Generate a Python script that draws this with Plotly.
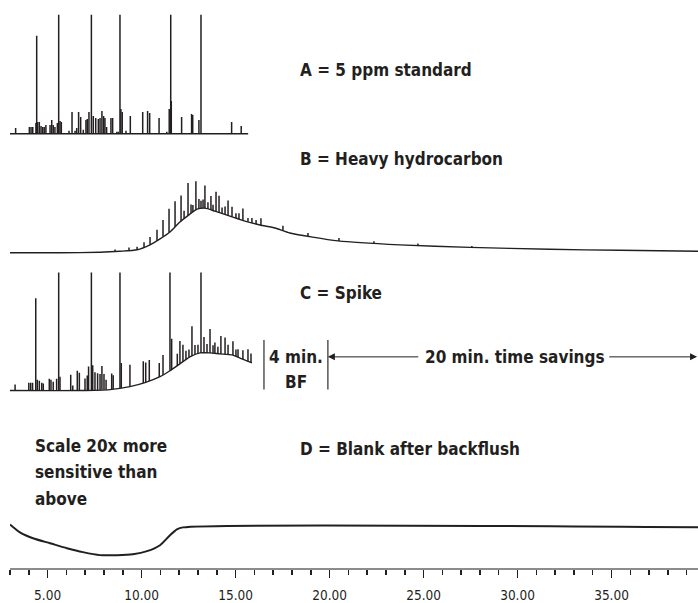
import numpy as np
import plotly.graph_objects as go

# ---------------- data ----------------
# Panel A: 5 ppm standard (flat baseline, peaks: retention time [min], height)
A_base_t = [3.0, 15.67]
A_base_y = [0, 0]
A_peak_t = [3.30, 4.03, 4.12, 4.21, 4.38, 4.42, 4.47, 4.56, 4.65, 4.74, 4.82, 4.91,
            5.13, 5.22, 5.30, 5.39, 5.52, 5.59, 5.66, 5.73, 6.14, 6.30, 6.46, 6.55,
            6.65, 6.76, 6.90, 7.04, 7.11, 7.20, 7.33, 7.43, 7.56, 7.70, 7.79, 7.89,
            7.98, 8.05, 8.14, 8.37, 8.46, 8.68, 8.76, 8.85, 8.90, 8.97, 9.17, 9.40,
            10.06, 10.32, 10.43, 10.93, 11.34, 11.47, 11.55, 11.58, 12.13, 12.66,
            12.72, 13.05, 13.16, 14.79, 15.30]
A_peak_h = [6, 7, 7, 7, 11, 99, 12, 12, 8, 7, 7, 9,
            9, 14, 9, 7, 11, 140, 13, 12, 3, 22, 3, 6,
            22, 17, 4, 14, 15, 22, 140, 18, 16, 15, 16, 23,
            18, 16, 7, 16, 16, 2, 2, 140, 25, 22, 3, 18,
            22, 23, 21, 16, 2, 25, 140, 33, 17, 20,
            19, 14, 140, 12, 8]

# Panel B: heavy hydrocarbon (hump + peaks on top)
B_base_t = [3.0, 5.66, 7.79, 8.85, 9.76, 10.45, 10.98, 11.51, 12.04, 12.57, 12.95,
            13.37, 13.90, 14.70, 15.50, 16.30, 17.10, 17.89, 20.45, 23.74, 27.47,
            31.72, 35.45, 39.6]
B_base_y = [0, 0, 0.5, 1.5, 3, 8, 14, 21, 31, 39, 44,
            45, 42, 37, 32, 28, 25, 20, 12, 8, 5.5,
            3.5, 2.5, 1.5]
B_peak_t = [8.59, 9.33, 9.76, 10.13, 10.45, 10.82, 11.14, 11.46, 11.78, 12.10, 12.26,
            12.47, 12.63, 12.73, 12.89, 13.05, 13.16, 13.27, 13.37, 13.53, 13.69, 13.80,
            13.96, 14.12, 14.28, 14.44, 14.60, 14.81, 15.02, 15.18, 15.39, 15.66, 15.87,
            16.09, 16.35, 17.52, 18.85, 20.50, 22.36, 24.70, 27.57]
B_peak_h = [2, 3, 3, 5, 8, 11, 17, 24, 26, 26, 8,
            33, 9, 7, 29, 10, 8, 9, 23, 7, 14, 6,
            20, 17, 6, 8, 15, 10, 5, 6, 12, 4, 5,
            4, 7, 5, 3, 3, 2, 2, 1.5]

# Panel C: spike (standard + heavy hydrocarbon, stopped at backflush)
C_base_t = [3.0, 6.72, 8.32, 9.38, 10.18, 10.98, 11.51, 12.04, 12.57, 13.11, 13.64,
            14.17, 14.81, 15.34, 15.87]
C_base_y = [0, 0, 1, 4, 8, 14, 20, 27, 34, 38, 38,
            37, 36, 32, 28]
C_peak_t = [3.27, 4.00, 4.10, 4.20, 4.37, 4.45, 4.56, 4.69, 4.77, 5.09, 5.18, 5.30,
            5.48, 5.59, 5.66, 6.23, 6.34, 6.58, 6.69, 6.99, 7.11, 7.18, 7.33, 7.40,
            7.52, 7.66, 7.79, 7.89, 8.00, 8.11, 8.41, 8.49, 8.85, 8.92, 9.38, 10.09,
            10.22, 10.41, 10.94, 11.14, 11.51, 11.60, 11.90, 12.04, 12.20, 12.36, 12.52,
            12.68, 12.84, 13.00, 13.16, 13.32, 13.48, 13.64, 13.80, 13.90, 14.06, 14.22,
            14.44, 14.60, 14.86, 15.02, 15.13, 15.39, 15.66, 15.82]
C_peak_h = [6, 8, 8, 8, 93, 11, 10, 8, 7, 12, 11, 9,
            12, 140, 14, 16, 5, 20, 18, 12, 15, 24, 140, 25,
            18, 17, 16, 24, 16, 10, 16, 14, 140, 25, 22, 22,
            20, 21, 14, 20, 140, 31, 12, 23, 17, 9, 8,
            30, 10, 9, 140, 16, 9, 24, 8, 11, 7, 18,
            17, 10, 14, 7, 8, 9, 12, 9]

# Panel D: blank after backflush (20x more sensitive)
D_t = [3.0, 3.53, 4.22, 5.13, 6.03, 6.88, 7.79, 8.69, 9.54, 10.29, 10.98, 11.51,
       11.88, 12.20, 39.6]
D_y = [3, -5, -11, -16, -21, -25, -28, -28, -27, -24, -18, -8,
       -2, 0, 0]

# Backflush window and savings markers [min]
BF_start, BF_end = 16.51, 19.91
arrow_left_tail, arrow_right_tail, run_end = 24.8, 34.8, 39.55

X_RANGE = [3.0, 39.6]
TICK_DTICK, MINOR_DTICK = 5, 1

assert len(A_peak_t) == len(A_peak_h)
assert len(B_peak_t) == len(B_peak_h)
assert len(C_peak_t) == len(C_peak_h)
assert len(B_base_t) == len(B_base_y)
assert len(C_base_t) == len(C_base_y)
assert len(D_t) == len(D_y)

# ---------------- figure ----------------
FONT = "Liberation Sans Narrow, Arial Narrow, DejaVu Sans Condensed, sans-serif"
INK = "#231f20"
W, H = 698, 603
ML, MR, MT, MB = 10, 0, 0, 29
PH = H - MT - MB  # plot-area height in px


def py(pix):
    """pixel row -> paper fraction"""
    return (H - MB - pix) / PH


def px(pix):
    return (pix - ML) / (W - ML - MR)


def spikes(pt, ph, bt, by):
    base = np.interp(pt, bt, by)
    xs, ys = [], []
    for t, b, h in zip(pt, base, ph):
        xs += [t, t, None]
        ys += [b, b + h, None]
    return xs, ys


fig = go.Figure()

panels = [
    ("y", A_base_t, A_base_y, A_peak_t, A_peak_h),
    ("y2", B_base_t, B_base_y, B_peak_t, B_peak_h),
    ("y3", C_base_t, C_base_y, C_peak_t, C_peak_h),
]
for yax, bt, by, pt, ph in panels:
    fig.add_trace(go.Scatter(x=bt, y=by, mode="lines", yaxis=yax,
                             line=dict(color=INK, width=1.4, shape="spline", smoothing=0.6),
                             hoverinfo="skip"))
    sx, sy = spikes(pt, ph, bt, by)
    fig.add_trace(go.Scatter(x=sx, y=sy, mode="lines", yaxis=yax,
                             line=dict(color=INK, width=1.5), hoverinfo="skip"))

fig.add_trace(go.Scatter(x=D_t, y=D_y, mode="lines", yaxis="y4",
                         line=dict(color=INK, width=2.0, shape="spline", smoothing=0.7),
                         hoverinfo="skip"))

hidden = dict(visible=False, showgrid=False, zeroline=False, fixedrange=True, anchor="x")
fig.update_layout(
    width=W, height=H,
    margin=dict(l=ML, r=MR, t=MT, b=MB),
    paper_bgcolor="white", plot_bgcolor="white",
    showlegend=False,
    font=dict(family=FONT, color=INK),
    xaxis=dict(range=X_RANGE, anchor="free", position=0, showgrid=False, zeroline=False,
               showline=True, linecolor="#8c8c8c", linewidth=2, fixedrange=True,
               ticks="outside", ticklen=8, tickwidth=1.5, tickcolor=INK,
               tick0=0, dtick=TICK_DTICK, tickformat=".2f",
               tickfont=dict(family=FONT, size=13.5, color=INK),
               ticklabelstandoff=6,
               minor=dict(dtick=MINOR_DTICK, tick0=0, ticks="outside", ticklen=5,
                          tickwidth=1.5, tickcolor=INK, showgrid=False)),
    yaxis=dict(domain=[py(138), py(15)], range=[-3, 120], **hidden),
    yaxis2=dict(domain=[py(260), py(175)], range=[-5, 80], **hidden),
    yaxis3=dict(domain=[py(398), py(275)], range=[-4, 119], **hidden),
    yaxis4=dict(domain=[py(564), py(524)], range=[-32, 8], **hidden),
)

# backflush window markers
for xv in (BF_start, BF_end):
    fig.add_shape(type="line", xref="x", yref="paper", x0=xv, x1=xv,
                  y0=py(393), y1=py(343), line=dict(color="#555555", width=1.5))

bold = dict(family=FONT, size=17, color=INK)
texts = [
    ("<b>A = 5 ppm standard</b>", 298, 71, "left"),
    ("<b>B = Heavy hydrocarbon</b>", 298, 160, "left"),
    ("<b>C = Spike</b>", 298, 296, "left"),
    ("<b>D = Blank after backflush</b>", 298, 453, "left"),
    ("<b>Scale 20x more</b>", 33, 450, "left"),
    ("<b>sensitive than</b>", 33, 476.5, "left"),
    ("<b>above</b>", 33, 503, "left"),
    ("<b>4 min.</b>", 296, 360.5, "center"),
    ("<b>BF</b>", 296, 385.5, "center"),
    ("<b>20 min. time savings</b>", 515, 360.5, "center"),
]
for t, x, y, anc in texts:
    fig.add_annotation(text=t, x=px(x), y=py(y), xref="paper", yref="paper", xanchor=anc,
                       yanchor="middle", showarrow=False, font=bold)

# arrows (horizontal: tail given in x data units, zero vertical pixel offset)
for head, tail in ((BF_end, arrow_left_tail), (run_end, arrow_right_tail)):
    fig.add_annotation(text="", x=head, y=py(360), xref="x", yref="paper",
                       ax=tail, ay=0, axref="x", ayref="pixel",
                       showarrow=True, arrowhead=2, arrowsize=1.4, arrowwidth=1,
                       arrowcolor=INK)

fig.write_html("out.html",
               config={"displayModeBar": False, "staticPlot": True},
               post_script="document.body.style.margin='0px';"
                           "document.body.style.overflow='hidden';")
